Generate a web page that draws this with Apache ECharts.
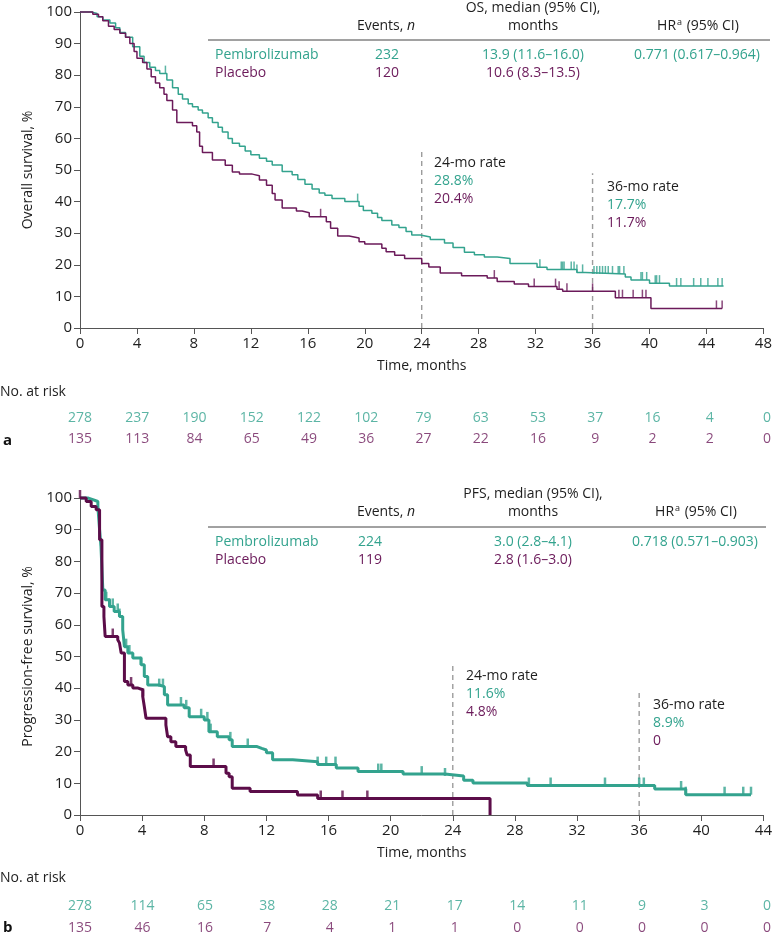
<!DOCTYPE html>
<html>
<head>
<meta charset="utf-8">
<script src="https://cdn.jsdelivr.net/npm/echarts@6/dist/echarts.min.js"></script>
<style>
html,body{margin:0;padding:0;background:#fff;}
#chart{width:775px;height:941px;}
</style>
</head>
<body>
<div id="chart"></div>
<script>
// ---------- DATA ----------
// Overall survival (panel a): [time (months), survival %] step points
const osPembro = [[0,100],[0.8,99.5],[1.2,98.5],[1.6,97.5],[2.1,96.5],[2.5,95],[2.8,93.5],[3.2,92],[3.7,89],[4.2,86],[4.5,84],[4.9,82.5],[5.3,81.5],[5.6,80.5],[6.1,78.5],[6.5,76],[6.9,74],[7.2,72.5],[7.6,71],[7.9,70],[8.3,69],[8.6,68],[9.0,66.5],[9.3,65],[9.7,63.5],[10.0,62],[10.4,60],[10.7,58.5],[11.2,57.5],[11.6,56],[12.0,54.8],[12.6,53.7],[13.1,52.8],[13.5,51.6],[14.2,49.5],[14.9,48.5],[15.3,47],[15.8,45.5],[16.3,44],[16.8,42.7],[17.2,42],[17.7,41],[18.6,40],[19.6,38.5],[19.9,37.2],[20.5,36.3],[20.9,35],[21.2,34],[21.9,32.6],[22.4,31.8],[22.9,30.5],[23.3,29.4],[23.9,28.8],[24.6,28],[25.6,26.9],[26.2,25.5],[27.0,24],[27.7,23.2],[28.4,22.5],[29.3,22],[30.2,20.4],[32.1,19.2],[32.8,18.5],[34.9,17.6],[35.5,17.1],[38.3,16.1],[38.7,15.2],[40.0,14.2],[41.4,13.3],[45.2,13.3]];
const osPlacebo = [[0,100],[0.9,99.3],[1.3,98.5],[1.6,97.2],[2.0,95.5],[2.4,94.5],[2.8,93.3],[3.2,92],[3.5,90],[3.8,87.5],[4.0,85.4],[4.4,84],[4.7,82],[5.0,79.5],[5.3,77.5],[5.6,76],[5.9,74],[6.1,72],[6.5,69],[6.8,65],[7.9,64],[8.2,62],[8.4,57.5],[8.6,55.5],[9.3,53.2],[10.2,51.5],[10.7,49.4],[11.2,48.7],[12.1,48.2],[12.6,46.8],[13.1,45.2],[13.5,42.6],[13.7,40.5],[14.2,38],[15.2,37],[15.6,36.5],[16.1,35.2],[17.3,33.6],[17.6,31.6],[18.1,29.1],[18.9,28.5],[19.6,27.3],[20.0,26.6],[21.2,25.2],[21.5,24.1],[22.1,23],[22.8,22],[24.0,20.4],[24.5,19.3],[25.3,17.4],[26.8,16.5],[28.6,15.8],[29.3,14.7],[30.5,13.9],[31.5,13.1],[33.5,12.3],[33.9,11.6],[37.6,9.6],[40.1,6.2],[45.1,6.2]];
const osPembroCensor = [6.0,19.5,32.3,33.8,33.9,34.0,34.5,34.7,34.9,35.3,36.1,36.3,36.5,36.7,36.9,37.1,37.4,37.8,37.9,38.2,39.4,39.5,39.8,40.4,40.5,40.7,41.9,42.2,43.1,43.6,44.1,44.8,45.1];
const osPlaceboCensor = [16.9,29.1,31.9,33.4,33.65,34.2,36.0,37.85,38.1,38.85,39.5,39.75,44.7,45.1];

// Progression-free survival (panel b)
const pfsPembro = [[0,100],[0.5,99.5],[0.83,98.9],[1.15,97.3],[1.26,90],[1.35,84.7],[1.47,71],[1.62,67.9],[1.9,65.8],[2.2,64.2],[2.54,62.6],[2.75,58.4],[2.86,53.1],[3.08,51.1],[3.4,49.5],[3.93,47.4],[4.14,43.7],[4.36,41],[5.1,40.5],[5.43,37.9],[5.64,34.7],[6.7,33.8],[7.03,31],[8.0,30],[8.3,26.3],[8.84,24.7],[9.6,23.7],[9.8,21.6],[11.4,21],[11.7,20.5],[12.0,19.6],[12.4,17.4],[13.7,16.8],[15.3,15.9],[16.5,14.8],[17.9,13.7],[20.8,12.9],[23.5,12.3],[24.7,11],[25.3,10.1],[28.8,9.3],[37.0,8.2],[39.0,6.4],[43.2,6.4]];
const pfsPlacebo = [[0,100],[0.4,98.9],[0.72,97.3],[1.04,96.3],[1.26,86.8],[1.41,65.8],[1.54,62.6],[1.62,56.3],[2.43,55.3],[2.54,54.3],[2.65,51.1],[2.86,42.1],[3.08,41],[3.4,40.1],[3.7,39.5],[4.04,37.4],[4.14,34.2],[4.25,30.5],[5.53,28.4],[5.64,24.7],[5.85,23.1],[6.17,21.6],[6.8,20.5],[6.9,18.9],[7.1,15.3],[9.4,13.2],[9.6,12.1],[9.8,8.4],[10.95,7.4],[14.0,6.3],[15.3,5.2],[26.4,0]];
const pfsPembroCensor = [1.69,1.9,2.11,2.43,2.54,2.97,3.18,3.93,5.1,5.34,5.43,6.5,6.84,7.8,8.2,8.41,9.68,10.8,15.3,15.85,16.45,19.2,19.4,22.0,23.5,28.9,30.3,33.8,36.0,36.3,38.7,39.0,41.5,42.7,43.2];
const pfsPlaceboCensor = [0,2.11,3.29,4.06,8.6,15.5,16.9,18.5];

// Landmark lines: [time, top of dashed line]
const osLandmarks = [[24,56.3],[36,49]];
const pfsLandmarks = [[24,48.3],[36,38.8]];

// Numbers at risk
const riskTimesOS = [0,4,8,12,16,20,24,28,32,36,40,44,48];
const riskOSPembro = [278,237,190,152,122,102,79,63,53,37,16,4,0];
const riskOSPlacebo = [135,113,84,65,49,36,27,22,16,9,2,2,0];
const riskTimesPFS = [0,4,8,12,16,20,24,28,32,36,40,44];
const riskPFSPembro = [278,114,65,38,28,21,17,14,11,9,3,0];
const riskPFSPlacebo = [135,46,16,7,4,1,1,0,0,0,0,0];

// ---------- STYLE ----------
const TEAL = '#33a38e';
const PURPLE = '#6b1a5a';
const PURPLE_DARK = '#5c0d49';
const TXT = '#1e1e1e';
const AX = '#555';
const FONT = '"Open Sans", "Noto Sans", sans-serif';

function survAt(curve, t) {
  let v = curve[0][1];
  for (const [ti, vi] of curve) { if (ti <= t) v = vi; else break; }
  return v;
}

const chart = echarts.init(document.getElementById('chart'), null, {renderer: 'canvas'});

function xAxisMain(gridIndex, max) {
  return {
    gridIndex, type: 'value', min: 0, max, interval: 4,
    name: 'Time, months', nameLocation: 'middle', nameGap: 31,
    nameTextStyle: {fontSize: 14, color: TXT, fontFamily: FONT},
    axisLine: {show: true, lineStyle: {color: AX, width: 1}},
    axisTick: {show: true, length: 6, lineStyle: {color: AX}},
    axisLabel: {fontSize: 15, color: TXT, margin: 8, fontFamily: FONT},
    splitLine: {show: false}
  };
}
function yAxisMain(gridIndex, name) {
  return {
    gridIndex, type: 'value', min: 0, max: 100, interval: 10,
    name, nameLocation: 'middle', nameGap: 45,
    nameTextStyle: {fontSize: 14, color: TXT, fontFamily: FONT},
    axisLine: {show: true, lineStyle: {color: AX, width: 1}},
    axisTick: {show: true, length: 6, lineStyle: {color: AX}},
    axisLabel: {fontSize: 15, color: TXT, margin: 8, fontFamily: FONT},
    splitLine: {show: false}
  };
}
function hiddenX(gridIndex, max) {
  return {gridIndex, type: 'value', min: 0, max, interval: 4, show: false};
}
function hiddenY(gridIndex) {
  return {gridIndex, type: 'category', data: ['Pembrolizumab', 'Placebo'], inverse: true, show: false};
}

function curveSeries(data, color, width, xi, yi) {
  return {type: 'line', step: 'end', data, xAxisIndex: xi, yAxisIndex: yi, symbol: 'none',
    lineStyle: {color, width}, itemStyle: {color}, silent: true, z: 3, clip: false};
}
function censorSeries(curve, times, color, w, h, xi, yi) {
  return {type: 'scatter', xAxisIndex: xi, yAxisIndex: yi, data: times.map(t => [t, survAt(curve, t)]),
    symbol: 'rect', symbolSize: [w, h], symbolOffset: [0, '-50%'], itemStyle: {color}, silent: true, z: 4, clip: false};
}
function landmarkSeries(lm, xi, yi) {
  return lm.map(([t, top]) => ({type: 'line', xAxisIndex: xi, yAxisIndex: yi, data: [[t, 0], [t, top]], symbol: 'none',
    lineStyle: {color: '#9c9c9c', width: 1.4, type: [5, 4]}, silent: true, z: 2}));
}
function riskSeries(times, vals, row, color, xi, yi) {
  return {type: 'scatter', xAxisIndex: xi, yAxisIndex: yi, data: times.map((t, i) => [t, row, vals[i]]),
    symbolSize: 1, itemStyle: {color: 'rgba(0,0,0,0)'}, silent: true,
    label: {show: true, position: 'inside', formatter: p => String(p.value[2]), color, fontSize: 14, fontFamily: FONT}};
}

function txt(text, x, y, fill, align, extra) {
  return {type: 'text', silent: true, style: Object.assign({text, x, y, fill, align: align || 'left', verticalAlign: 'middle',
    font: '14px ' + FONT}, extra || {})};
}
function hrText(x, y) {
  return {type: 'text', silent: true, style: {text: '{b|HR}{s|a}{b| (95% CI)}', x, y, align: 'center', verticalAlign: 'middle',
    fill: TXT, font: '14px ' + FONT,
    rich: {b: {fontSize: 14, fontFamily: FONT, color: TXT, lineHeight: 18}, s: {fontSize: 9, fontFamily: FONT, color: TXT, verticalAlign: 'top', lineHeight: 18, padding: [1, 1, 0, 1]}}}};
}
function eventsText(x, y) {
  return {type: 'text', silent: true, style: {text: '{b|Events, }{i|n}', x, y, align: 'center', verticalAlign: 'middle',
    fill: TXT, font: '14px ' + FONT,
    rich: {b: {fontSize: 14, fontFamily: FONT, color: TXT}, i: {fontSize: 14, fontFamily: FONT, color: TXT, fontStyle: 'italic'}}}};
}

const graphics = [
  // Panel a table
  txt('OS, median (95% CI),', 533, 8, TXT, 'center'),
  txt('months', 533, 26, TXT, 'center'),
  eventsText(386, 26),
  hrText(698, 26),
  {type: 'line', silent: true, shape: {x1: 208, y1: 40, x2: 770, y2: 40}, style: {stroke: '#444', lineWidth: 1}},
  txt('Pembrolizumab', 215, 55, TEAL),
  txt('Placebo', 215, 73, PURPLE),
  txt('232', 387, 55, TEAL, 'center'),
  txt('120', 387, 73, PURPLE, 'center'),
  txt('13.9 (11.6–16.0)', 533, 55, TEAL, 'center'),
  txt('10.6 (8.3–13.5)', 533, 73, PURPLE, 'center'),
  txt('0.771 (0.617–0.964)', 697, 55, TEAL, 'center'),
  txt('24-mo rate', 434, 163, TXT),
  txt('28.8%', 434, 181, TEAL),
  txt('20.4%', 434, 199, PURPLE),
  txt('36-mo rate', 607, 187, TXT),
  txt('17.7%', 607, 205, TEAL),
  txt('11.7%', 607, 223, PURPLE),
  txt('No. at risk', 0, 392, TXT),
  txt('a', 3, 441, '#111', 'left', {font: 'bold 15px ' + FONT}),
  // Panel b table
  txt('PFS, median (95% CI),', 533, 494, TXT, 'center'),
  txt('months', 533, 512, TXT, 'center'),
  eventsText(386, 512),
  hrText(696, 512),
  {type: 'line', silent: true, shape: {x1: 208, y1: 527, x2: 766, y2: 527}, style: {stroke: '#444', lineWidth: 1}},
  txt('Pembrolizumab', 215, 542, TEAL),
  txt('Placebo', 215, 560, PURPLE),
  txt('224', 370, 542, TEAL, 'center'),
  txt('119', 370, 560, PURPLE, 'center'),
  txt('3.0 (2.8–4.1)', 533, 542, TEAL, 'center'),
  txt('2.8 (1.6–3.0)', 533, 560, PURPLE, 'center'),
  txt('0.718 (0.571–0.903)', 695, 542, TEAL, 'center'),
  txt('24-mo rate', 466, 676, TXT),
  txt('11.6%', 466, 694, TEAL),
  txt('4.8%', 466, 712, PURPLE),
  txt('36-mo rate', 653, 705, TXT),
  txt('8.9%', 653, 723, TEAL),
  txt('0', 653, 741, PURPLE),
  txt('No. at risk', 0, 878, TXT),
  txt('b', 3, 928, '#111', 'left', {font: 'bold 15px ' + FONT})
];

const option = {
  animation: false,
  backgroundColor: '#fff',
  textStyle: {fontFamily: FONT},
  grid: [
    {left: 80, top: 12, width: 687, height: 316},
    {left: 80, top: 408, width: 687, height: 42},
    {left: 80, top: 498, width: 687, height: 317},
    {left: 80, top: 895, width: 687, height: 44}
  ],
  xAxis: [xAxisMain(0, 48), hiddenX(1, 48), xAxisMain(2, 44), hiddenX(3, 44)],
  yAxis: [yAxisMain(0, 'Overall survival, %'), hiddenY(1), yAxisMain(2, 'Progression-free survival, %'), hiddenY(3)],
  series: [
    ...landmarkSeries(osLandmarks, 0, 0),
    curveSeries(osPembro, TEAL, 1.5, 0, 0),
    curveSeries(osPlacebo, PURPLE, 1.5, 0, 0),
    censorSeries(osPembro, osPembroCensor, TEAL, 1.5, 8, 0, 0),
    censorSeries(osPlacebo, osPlaceboCensor, PURPLE, 1.5, 8, 0, 0),
    riskSeries(riskTimesOS, riskOSPembro, 'Pembrolizumab', TEAL, 1, 1),
    riskSeries(riskTimesOS, riskOSPlacebo, 'Placebo', PURPLE, 1, 1),
    ...landmarkSeries(pfsLandmarks, 2, 2),
    curveSeries(pfsPembro, TEAL, 3, 2, 2),
    curveSeries(pfsPlacebo, PURPLE_DARK, 3, 2, 2),
    censorSeries(pfsPembro, pfsPembroCensor, TEAL, 2.5, 8, 2, 2),
    censorSeries(pfsPlacebo, pfsPlaceboCensor, PURPLE_DARK, 2.5, 8, 2, 2),
    riskSeries(riskTimesPFS, riskPFSPembro, 'Pembrolizumab', TEAL, 3, 3),
    riskSeries(riskTimesPFS, riskPFSPlacebo, 'Placebo', PURPLE, 3, 3)
  ],
  graphic: graphics
};
chart.setOption(option);
</script>
</body>
</html>
